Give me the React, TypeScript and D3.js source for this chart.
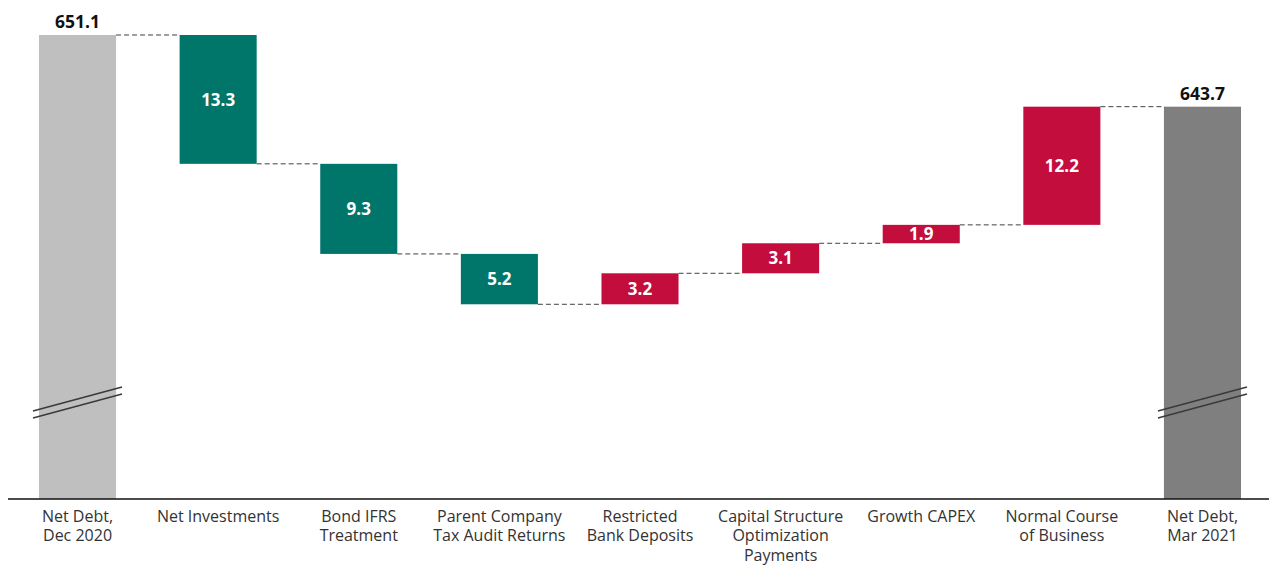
import React from "react";
import * as d3 from "d3";

const categories = [
  "Net Debt, Dec 2020",
  "Net Investments",
  "Bond IFRS Treatment",
  "Parent Company Tax Audit Returns",
  "Restricted Bank Deposits",
  "Capital Structure Optimization Payments",
  "Growth CAPEX",
  "Normal Course of Business",
  "Net Debt, Mar 2021",
];
const categoryLines = [
  ["Net Debt,", "Dec 2020"],
  ["Net Investments"],
  ["Bond IFRS", "Treatment"],
  ["Parent Company", "Tax Audit Returns"],
  ["Restricted", "Bank Deposits"],
  ["Capital Structure", "Optimization", "Payments"],
  ["Growth CAPEX"],
  ["Normal Course", "of Business"],
  ["Net Debt,", "Mar 2021"],
];
const startValue = 651.1;
const deltas = [-13.3, -9.3, -5.2, 3.2, 3.1, 1.9, 12.2];
const endValue = 643.7;
const axisBase = 603.2;

const W = 1269;
const H = 566;
const COLORS = {
  start: "#bfbfbf",
  end: "#7f7f7f",
  down: "#00766a",
  up: "#c20d3d",
};

type Bar = { cat: string; y0: number; y1: number; color: string; label: string; total: boolean };

export default function App() {
  const x = d3.scaleBand<string>().domain(categories).range([39, 1241]).paddingInner(0.452).paddingOuter(0);
  const y = d3.scaleLinear().domain([axisBase, startValue]).range([499, 35]);

  const bars: Bar[] = [];
  bars.push({ cat: categories[0], y0: axisBase, y1: startValue, color: COLORS.start, label: startValue.toFixed(1), total: true });
  let run = startValue;
  deltas.forEach((d, i) => {
    const next = +(run + d).toFixed(1);
    bars.push({
      cat: categories[i + 1],
      y0: Math.min(run, next),
      y1: Math.max(run, next),
      color: d < 0 ? COLORS.down : COLORS.up,
      label: Math.abs(d).toFixed(1),
      total: false,
    });
    run = next;
  });
  bars.push({ cat: categories[8], y0: axisBase, y1: endValue, color: COLORS.end, label: endValue.toFixed(1), total: true });

  const levels: number[] = [startValue];
  let r = startValue;
  deltas.forEach((d) => {
    r = +(r + d).toFixed(1);
    levels.push(r);
  });

  const bw = x.bandwidth();
  const font = "'Open Sans', 'Noto Sans', sans-serif";

  return (
    <svg width={W} height={H} style={{ position: "absolute", left: 0, top: 0, background: "#fff" }} fontFamily={font}>
      {bars.map((b, i) => {
        const bx = x(b.cat)!;
        const top = y(b.y1);
        const bot = y(b.y0);
        return (
          <g key={i}>
            <rect x={bx} y={top} width={bw} height={bot - top} fill={b.color} />
            {b.total ? (
              <text x={bx + bw / 2} y={top - 7} textAnchor="middle" fontSize={17.5} fontWeight={700} fill="#111">
                {b.label}
              </text>
            ) : (
              <text x={bx + bw / 2} y={(top + bot) / 2} dy="0.36em" textAnchor="middle" fontSize={17} fontWeight={700} fill="#fff">
                {b.label}
              </text>
            )}
          </g>
        );
      })}
      {levels.map((lv, i) => {
        const x1 = x(categories[i])! + bw;
        const x2 = x(categories[i + 1])!;
        return (
          <line key={"c" + i} x1={x1} x2={x2} y1={y(lv)} y2={y(lv)} stroke="#404040" strokeWidth={1} strokeDasharray="5,3" />
        );
      })}
      {[0, 8].map((i) => {
        const bx = x(categories[i])!;
        return (
          <g key={"br" + i}>
            <line x1={bx - 6} y1={411} x2={bx + bw + 6} y2={387} stroke="#3a3a3a" strokeWidth={1.5} />
            <line x1={bx - 6} y1={418} x2={bx + bw + 6} y2={394} stroke="#3a3a3a" strokeWidth={1.5} />
          </g>
        );
      })}
      <line x1={8} x2={W} y1={y(axisBase)} y2={y(axisBase)} stroke="#111" strokeWidth={1.3} />
      {categoryLines.map((lines, i) => {
        const cx = x(categories[i])! + bw / 2;
        return (
          <text key={"l" + i} x={cx} y={521.5} textAnchor="middle" fontSize={16} fill="#333">
            {lines.map((ln, j) => (
              <tspan key={j} x={cx} dy={j === 0 ? 0 : 19.5}>
                {ln}
              </tspan>
            ))}
          </text>
        );
      })}
    </svg>
  );
}
